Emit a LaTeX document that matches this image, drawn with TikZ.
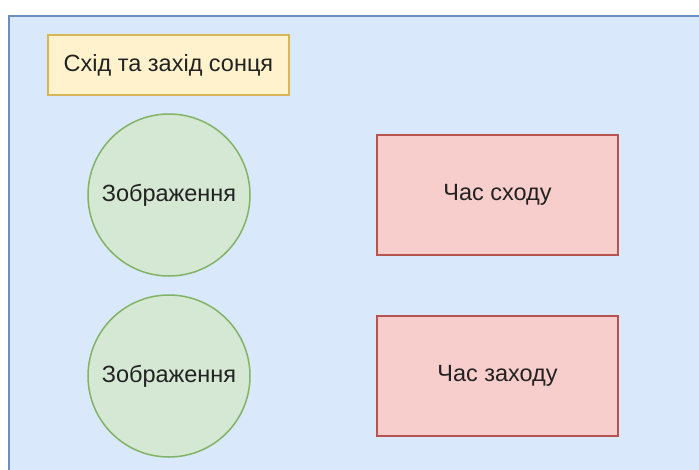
\documentclass[tikz,border=0pt]{standalone}
\usepackage{fontspec}
\setmainfont{Liberation Sans}
\definecolor{bgfill}{HTML}{DAE8FC}
\definecolor{bgline}{HTML}{6C8EBF}
\definecolor{yfill}{HTML}{FFF2CC}
\definecolor{yline}{HTML}{D6B656}
\definecolor{gfill}{HTML}{D5E8D4}
\definecolor{gline}{HTML}{82B366}
\definecolor{rfill}{HTML}{F8CECC}
\definecolor{rline}{HTML}{B85450}
\definecolor{labeltext}{HTML}{222222}
\tikzset{
  label font/.style={font=\fontsize{23.5pt}{26pt}\selectfont, text=labeltext},
  panel/.style={fill=bgfill, draw=bgline, line width=2pt},
  titlebox/.style={rectangle, fill=yfill, draw=yline, line width=1.5pt, minimum width=241pt, minimum height=60pt, inner sep=0pt, label font},
  imgcircle/.style={circle, fill=gfill, draw=gline, line width=1.5pt, minimum size=162pt, inner sep=0pt, label font},
  timebox/.style={rectangle, fill=rfill, draw=rline, line width=1.5pt, minimum width=241pt, minimum height=120pt, inner sep=0pt, label font},
}
\begin{document}
\begin{tikzpicture}[x=1pt, y=-1pt]
  \useasboundingbox (0,0) rectangle (699,469);
  \begin{scope}
    \clip (0,0) rectangle (699,469);
    \fill[white] (0,0) rectangle (699,469);
    \draw[panel] (8.5,15.5) rectangle (720,490);
  \end{scope}
  \node[titlebox] (title) at (168.5,65) {Схід та захід сонця};
  \node[imgcircle] (img1) at (169,195) {Зображення};
  \node[imgcircle] (img2) at (169,376) {Зображення};
  \node[timebox] (rise) at (497.5,195) {Час сходу};
  \node[timebox] (set) at (497.5,376) {Час заходу};
\end{tikzpicture}
\end{document}
